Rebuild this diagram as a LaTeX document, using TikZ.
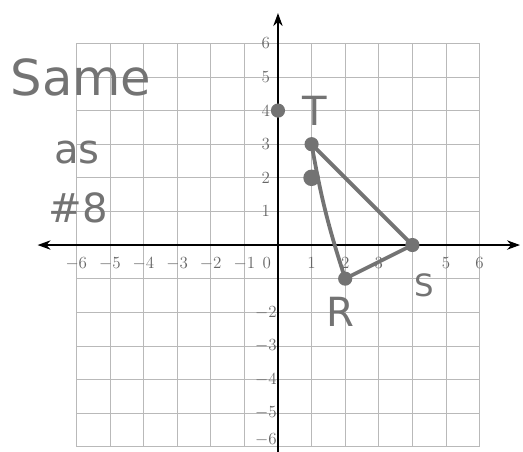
\documentclass[tikz,border=0pt]{standalone}
\usepackage{amsmath,amssymb}
\usepackage{fontspec}
\newfontfamily\handfont{DejaVu Sans}
\usetikzlibrary{arrows.meta,positioning}

\begin{document}
\begin{tikzpicture}[
    pen/.style={draw=gray!90!black, line width=3.2pt, line cap=round, line join=round},
    dot/.style={circle, fill=gray!90!black, inner sep=0pt, minimum size=12pt},
    hand/.style={text=gray!90!black, font=\handfont\fontsize{34}{36}\selectfont},
    tick/.style={text=gray!80!black, font=\Large}
]
    \useasboundingbox (-8.27,-6.13) rectangle (7.29,7.29);

    % Grid on the plane
    \draw[gray!55, line width=0.6pt] (-6,-6) grid (6,6);

    % Axes
    \draw[-{Stealth[length=11pt,width=8pt]}, line width=1pt] (0,-6.3) -- (0,6.9);
    \draw[{Stealth[length=11pt,width=8pt]}-{Stealth[length=11pt,width=8pt]}, line width=1pt] (-7.15,0) -- (7.2,0);

    % Tick labels
    \foreach \x in {-6,...,-1,1,2,3,5,6}
        \node[tick] (xl\x) at (\x,-0.55) {$\x$};
    \node[tick] (origin) at (-0.33,-0.55) {$0$};
    \foreach \y in {1,...,6,-2,-3,-4,-5}
        \node[tick] (yl\y) at (-0.36,\y) {$\y$};
    \node[tick] (yl-6) at (-0.36,-5.8) {$-6$};

    % Points of the triangle
    \coordinate (T) at (1,3);
    \coordinate (R) at (2,-1);
    \coordinate (S) at (4,0);
    \draw[pen] (T) to[bend right=4] (R) -- (S) -- cycle;
    \node[dot] (dT) at (T) {};
    \node[dot] (dR) at (R) {};
    \node[dot] (dS) at (S) {};
    \node[dot] (dA) at (0,4) {};
    \node[dot, minimum height=14pt, minimum width=10pt] (dB) at (1,2) {};

    % Handwritten labels
    \node[hand] (lT) at (1.1,4.0) {T};
    \node[hand] (lR) at (1.85,-2.0) {R};
    \node[hand, font=\handfont\fontsize{26}{28}\selectfont] (lS) at (4.35,-1.2) {S};

    \node[hand, font=\handfont\fontsize{42}{44}\selectfont] (same) at (-5.86,5.0) {Same};
    \node[hand] (as) at (-5.98,2.74) {as};
    \node[hand] (num) at (-5.95,1.1) {\#8};
\end{tikzpicture}
\end{document}
